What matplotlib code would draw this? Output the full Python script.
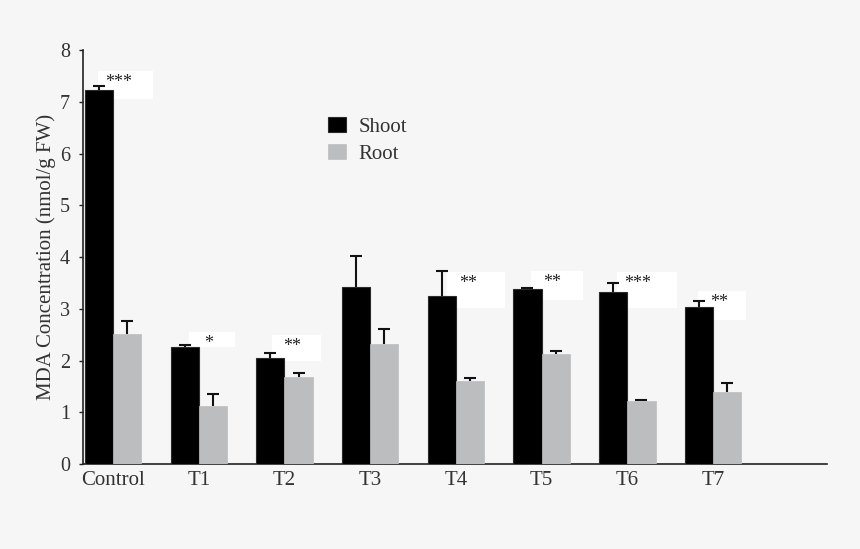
import numpy as np
import matplotlib
matplotlib.use("Agg")
import matplotlib.pyplot as plt
from matplotlib.patches import Rectangle

# MDA concentration (nmol/g FW) per treatment, mean and upper SE
groups = ["Control", "T1", "T2", "T3", "T4", "T5", "T6", "T7"]
shoot = [7.22, 2.27, 2.05, 3.43, 3.25, 3.38, 3.32, 3.04]
shoot_err = [0.09, 0.03, 0.09, 0.60, 0.48, 0.02, 0.19, 0.11]
root = [2.51, 1.13, 1.69, 2.32, 1.61, 2.13, 1.22, 1.39]
root_err = [0.26, 0.23, 0.08, 0.29, 0.06, 0.06, 0.02, 0.17]

# significance marks between shoot and root (group index, stars)
sig_groups = [0, 1, 2, 4, 5, 6, 7]
sig_marks = ["***", "*", "**", "**", "**", "***", "**"]

# white label boxes: (left, right) offsets from group centre and
# (below, above) offsets from the shoot bar top
sig_box_layout = [(-0.18, 0.47, -0.17, 0.38),
                  (-0.12, 0.42, 0.00, 0.28),
                  (-0.15, 0.43, -0.06, 0.45),
                  (-0.10, 0.57, -0.23, 0.47),
                  (-0.12, 0.48, -0.21, 0.36),
                  (-0.12, 0.58, -0.30, 0.40),
                  (-0.17, 0.38, -0.25, 0.31)]

BG = "#f6f6f6"
TXT = "#333333"
SHOOT_C = "#000000"
ROOT_C = "#bcbdbf"

plt.rcParams["font.family"] = ["Liberation Serif", "DejaVu Serif"]

fig = plt.figure(figsize=(8.6, 5.49), dpi=100, facecolor=BG)
ax = fig.add_axes([0.0962, 0.1543, 0.8655, 0.7547])
ax.set_facecolor(BG)

x = np.arange(len(groups))
w = 0.33

# label boxes sit behind the bars
for g, mark, (l, r, b, t) in zip(sig_groups, sig_marks, sig_box_layout):
    top = shoot[g]
    ax.add_patch(Rectangle((x[g] + l, top + b), r - l, t - b,
                           facecolor="white", edgecolor="none", zorder=1))
    ax.text(x[g] + l + 0.24, top + t - 0.06, mark, ha="center", va="top",
            fontsize=13, color="#222222", zorder=4)

ax.bar(x - w / 2, shoot, w, color=SHOOT_C, edgecolor="#2a2a2a",
       linewidth=0.8, label="Shoot", zorder=3)
ax.bar(x + w / 2, root, w, color=ROOT_C, edgecolor=ROOT_C,
       linewidth=0.5, label="Root", zorder=3)

for xs, vals, errs in [(x - w / 2, shoot, shoot_err), (x + w / 2, root, root_err)]:
    vals = np.asarray(vals)
    errs = np.asarray(errs)
    _, caps, _ = ax.errorbar(xs, vals, yerr=[np.zeros_like(errs), errs],
                             fmt="none", ecolor="#111111", elinewidth=1.5,
                             capsize=4, capthick=1.5, zorder=2.5)
    for c in caps:
        if np.allclose(c.get_ydata(), vals):
            c.set_visible(False)

ax.set_xlim(-0.354, 8.33)
ax.set_ylim(0, 8)
ax.set_yticks(range(0, 9))
ax.set_xticks(x)
ax.set_xticklabels(groups)

for s in ["top", "right"]:
    ax.spines[s].set_visible(False)
for s in ["left", "bottom"]:
    ax.spines[s].set_color("#222222")
    ax.spines[s].set_linewidth(1.2)

ax.tick_params(axis="y", direction="out", length=3, width=1, color="#222222",
               labelsize=14.5, labelcolor=TXT, pad=6)
ax.tick_params(axis="x", length=0, labelsize=15, labelcolor=TXT, pad=4.5)

ax.set_ylabel("MDA Concentration (nmol/g FW)", fontsize=15, color=TXT,
              labelpad=3)

leg = ax.legend(loc="upper left", bbox_to_anchor=(328 / 860, 1 - 117 / 549),
                bbox_transform=fig.transFigure, frameon=False, fontsize=15,
                handlelength=0.85, handleheight=0.75, handletextpad=0.6,
                labelspacing=0.33, borderpad=0, borderaxespad=0)
for t in leg.get_texts():
    t.set_color(TXT)

fig.savefig("out.png", dpi=100, facecolor=BG)
